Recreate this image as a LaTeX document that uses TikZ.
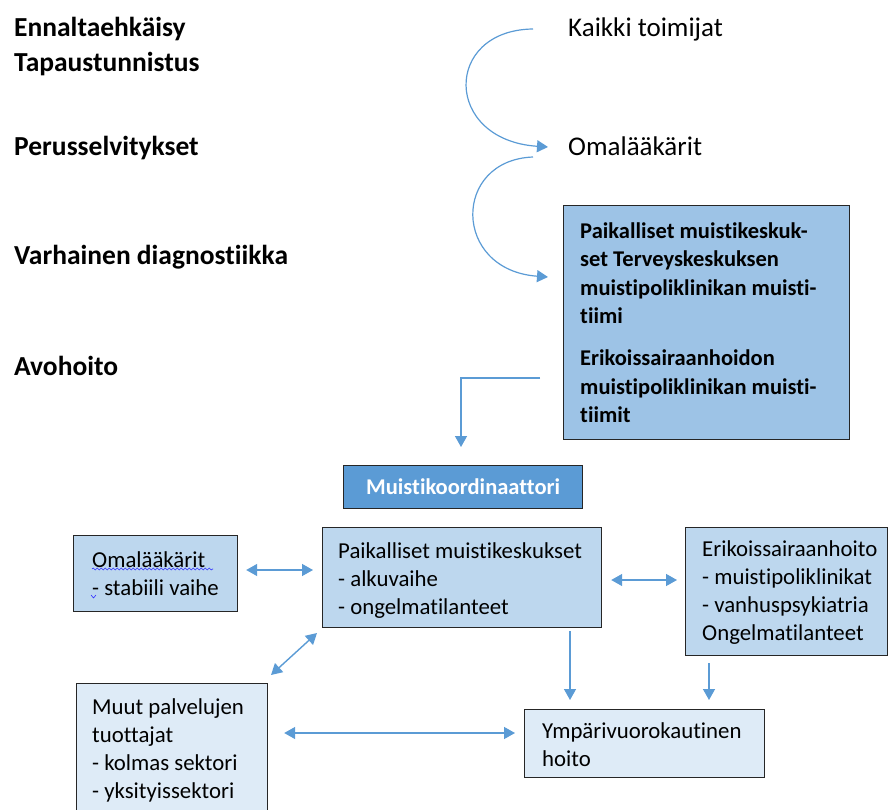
\documentclass[tikz,border=0pt]{standalone}
\usepackage{fontspec}
\setmainfont{Carlito}[Ligatures=NoCommon]
\usetikzlibrary{arrows.meta,decorations.pathmorphing}
\definecolor{arr}{HTML}{5B9BD5}
\definecolor{fillA}{HTML}{9DC3E6}
\definecolor{fillB}{HTML}{BDD7EE}
\definecolor{fillC}{HTML}{DEEBF7}
\definecolor{edge}{HTML}{262626}
\tikzset{
  lbl/.style={anchor=base west,inner sep=0pt,font=\bfseries\fontsize{27.5}{28}\selectfont},
  rlbl/.style={anchor=base west,inner sep=0pt,font=\fontsize{27}{28}\selectfont},
  boxbase/.style={draw=edge,line width=1.2pt,anchor=north west,inner sep=0pt},
  boxtext/.style={anchor=west,inner sep=0pt,align=left,font=\fontsize{22.8}{28}\selectfont},
  conn/.style={draw=arr,line width=1.4pt,-{Triangle[length=11pt,width=12pt]}},
  dconn/.style={draw=arr,line width=1.4pt,{Triangle[length=11pt,width=12pt]}-{Triangle[length=11pt,width=12pt]}},
}
\begin{document}
\begin{tikzpicture}[x=1pt,y=-1pt]
\useasboundingbox (0,0) rectangle (888,810);
% left labels
\node[lbl] (l1) at (14,37) {Ennaltaehkäisy};
\node[lbl] (l2) at (14,72) {Tapaustunnistus};
\node[lbl] (l3) at (14,156) {Perusselvitykset};
\node[lbl] (l4) at (14,265) {Varhainen diagnostiikka};
\node[lbl] (l5) at (14,375) {Avohoito};
% right labels
\node[rlbl] (r1) at (568,37) {Kaikki toimijat};
\node[rlbl] (r2) at (568,156) {Omalääkärit};
% boxes
\node[boxbase,fill=fillA,minimum width=286pt,minimum height=234pt] (big) at (563,205) {};
\node[boxtext,font=\bfseries\fontsize{22.5}{28.3}\selectfont] (bigT) at ([xshift=17pt]big.west)
 {Paikalliset muistikeskuk-\\set Terveyskeskuksen\\muistipoliklinikan muisti-\\tiimi\\[14pt]Erikoissairaanhoidon\\muistipoliklinikan muisti-\\tiimit};
\node[draw=edge,line width=1.2pt,fill=arr,text=white,anchor=north west,minimum width=239pt,minimum height=43pt,inner sep=0pt,font=\bfseries\fontsize{22.5}{24}\selectfont] (mk) at (343,465) {Muistikoordinaattori};
\node[boxbase,fill=fillB,minimum width=164pt,minimum height=76pt] (omal) at (73,535) {};
\node[boxtext] (omalT) at ([xshift=19pt]omal.west) {Omalääkärit\\- stabiili vaihe};
\node[boxbase,fill=fillB,minimum width=279pt,minimum height=100pt] (paik) at (322,527) {};
\node[boxtext] (paikT) at ([xshift=16pt,yshift=-3pt]paik.west) {Paikalliset muistikeskukset\\- alkuvaihe\\- ongelmatilanteet};
\node[boxbase,fill=fillB,minimum width=202pt,minimum height=128pt] (erik) at (685,527) {};
\node[boxtext] (erikT) at ([xshift=17pt,yshift=-1pt]erik.west) {Erikoissairaanhoito\\- muistipoliklinikat\\- vanhuspsykiatria\\Ongelmatilanteet};
\node[boxbase,fill=fillC,minimum width=191pt,minimum height=132pt] (muut) at (76,683) {};
\node[boxtext] (muutT) at ([xshift=16pt,yshift=-1pt]muut.west) {Muut palvelujen\\tuottajat\\- kolmas sektori\\- yksityissektori};
\node[boxbase,fill=fillC,minimum width=240pt,minimum height=68pt] (ymp) at (524,709) {};
\node[boxtext] (ympT) at ([xshift=18pt,yshift=-1pt]ymp.west) {Ympärivuorokautinen\\hoito};
% spell-check marks
\draw[blue!80!white,line width=0.6pt,decorate,decoration={snake,amplitude=1pt,segment length=4pt}] (92,569) -- (213,569);
\draw[blue!80!white,line width=0.6pt] (91,595) -- (93.5,598) -- (96,595);
% curved arrows
\coordinate (c1s) at (533,29);
\coordinate (c1e) at (548,147);
\coordinate (c2s) at (533,157);
\coordinate (c2e) at (548,277);
\draw[conn,line width=1.2pt] (c1s) .. controls (443,30) and (443,140) .. (c1e);
\draw[conn,line width=1.2pt] (c2s) .. controls (452,160) and (452,270) .. (c2e);
% elbow arrow
\coordinate (e1) at (540,378);
\coordinate (e2) at (461,378);
\draw[conn,shorten >=18pt] (e1) -- (e2) -- (e2 |- mk.north);
% double arrows
\coordinate (y570) at (0,570);
\coordinate (y580) at (0,580);
\coordinate (y733) at (0,733);
\draw[dconn,shorten <=8pt,shorten >=9pt] (omal.east |- y570) -- (paik.west |- y570);
\draw[dconn,shorten <=9pt,shorten >=8pt] (paik.east |- y580) -- (erik.west |- y580);
\draw[dconn,shorten <=16pt,shorten >=9pt] (muut.east |- y733) -- (ymp.west |- y733);
\coordinate (d1) at (271,675);
\coordinate (d2) at (317,633);
\draw[dconn] (d1) -- (d2);
% down arrows
\coordinate (x570) at (570,0);
\coordinate (x709) at (709,0);
\draw[conn,shorten <=3pt,shorten >=9pt] (x570 |- paik.south) -- (x570 |- ymp.north);
\draw[conn,shorten <=7pt,shorten >=9pt] (x709 |- erik.south) -- (x709 |- ymp.north);
\end{tikzpicture}
\end{document}
